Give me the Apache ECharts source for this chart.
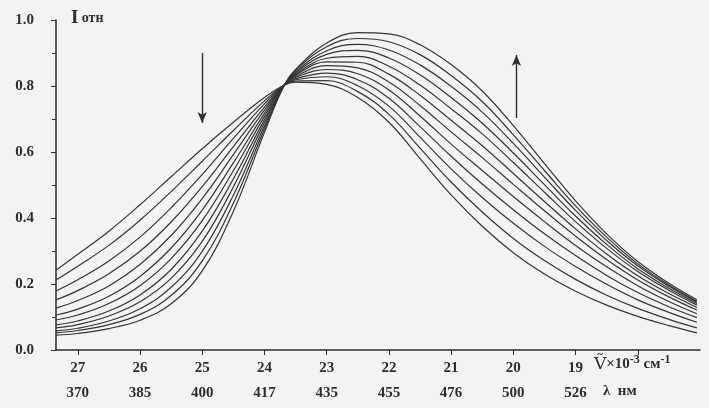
<!DOCTYPE html>
<html>
<head>
<meta charset="utf-8">
<script src="https://cdn.jsdelivr.net/npm/echarts@6/dist/echarts.min.js"></script>
<style>
  html, body { margin: 0; padding: 0; background: #f3f3f1; }
  #chart { width: 709px; height: 408px; }
</style>
</head>
<body>
<div id="chart"></div>
<script>
// wavenumber, 10^3 cm^-1
const wavenumbers = [27.35, 27, 26.5, 26, 25.5, 25, 24.5, 24, 23.68, 23.5, 23, 22.5, 22, 21.5, 21, 20.5, 20, 19.5, 19, 18.5, 18, 17.5, 17.05]

// relative intensity, one array per spectrum
const c0  = [.242, .290, .360, .440, .525, .610, .690, .765, .803, .812, .805, .765, .690, .580, .470, .375, .295, .230, .178, .136, .102, .074, .052]
const c1  = [.212, .254, .317, .393, .480, .572, .665, .755, .803, .815, .816, .783, .714, .612, .509, .418, .338, .271, .214, .166, .126, .093, .067]
const c2  = [.179, .213, .270, .342, .431, .532, .641, .746, .803, .819, .828, .801, .739, .645, .549, .462, .384, .314, .253, .199, .152, .114, .084]
const c3  = [.152, .180, .231, .299, .388, .495, .616, .736, .803, .822, .839, .819, .763, .677, .587, .503, .425, .352, .286, .226, .174, .131, .098]
const c4  = [.127, .150, .194, .259, .347, .459, .592, .727, .803, .826, .850, .837, .788, .709, .624, .544, .465, .389, .317, .252, .195, .147, .110]
const c5  = [.106, .124, .163, .223, .309, .424, .567, .717, .803, .829, .862, .855, .812, .741, .661, .583, .502, .422, .345, .274, .212, .161, .121]
const c6  = [.091, .106, .141, .195, .277, .392, .543, .708, .803, .833, .873, .872, .836, .772, .696, .619, .535, .450, .367, .291, .225, .171, .129]
const c7  = [.076, .088, .118, .167, .244, .360, .518, .698, .803, .836, .884, .890, .860, .803, .731, .655, .568, .478, .389, .308, .238, .181, .136]
const c8  = [.067, .077, .103, .146, .217, .329, .494, .689, .803, .840, .896, .908, .885, .834, .765, .687, .597, .501, .406, .320, .246, .187, .141]
const c9  = [.058, .066, .088, .125, .190, .299, .469, .679, .803, .843, .907, .926, .909, .864, .799, .721, .626, .524, .423, .332, .255, .193, .145]
const c10 = [.052, .059, .077, .108, .165, .270, .445, .670, .803, .847, .919, .944, .934, .895, .832, .753, .652, .544, .437, .342, .261, .197, .148]
const c11 = [.045, .050, .065, .090, .140, .240, .420, .660, .803, .850, .930, .962, .958, .925, .865, .785, .680, .565, .452, .352, .268, .202, .152]
const spectra = [c0, c1, c2, c3, c4, c5, c6, c7, c8, c9, c10, c11]

// tick labels
const nuTicks = [27, 26, 25, 24, 23, 22, 21, 20, 19]
const lambdaLabels = ['370', '385', '400', '417', '435', '455', '476', '500', '526']
const xTickMarks = [27, 26, 25, 24, 23, 22, 21, 20, 19, 18]

// arrows: [nu, from, to]
const arrowDown = [25.0, 0.90, 0.688]
const arrowUp = [19.95, 0.703, 0.894]

const ink = '#2e2e2e'
const serif = '"Liberation Serif", "DejaVu Serif", serif'

const chart = echarts.init(document.getElementById('chart'))

const series = spectra.map((vals, k) => ({
  name: 'c' + k,
  type: 'line',
  data: wavenumbers.map((nu, i) => [nu, vals[i]]),
  smooth: 0.4,
  symbol: 'none',
  lineStyle: { color: '#353535', width: 1.2 },
  silent: true,
}))

series[0].markLine = {
  silent: true,
  symbol: ['none', 'arrow'],
  symbolSize: [7, 11],
  label: { show: false },
  lineStyle: { color: ink, width: 1.4, type: 'solid' },
  data: [
    [{ coord: [arrowDown[0], arrowDown[1]] }, { coord: [arrowDown[0], arrowDown[2]] }],
    [{ coord: [arrowUp[0], arrowUp[1]] }, { coord: [arrowUp[0], arrowUp[2]] }],
  ],
}

chart.setOption({
  backgroundColor: '#f3f3f1',
  animation: false,
  grid: { left: 56, right: 9, top: 20, bottom: 58 },
  xAxis: {
    type: 'value',
    min: 17, max: 27.35,
    inverse: true,
    axisLine: { lineStyle: { color: ink, width: 1.5 } },
    axisTick: { customValues: xTickMarks, length: 5, lineStyle: { color: ink } },
    splitLine: { show: false },
    axisLabel: {
      customValues: nuTicks,
      margin: 6,
      formatter: v => {
        const i = nuTicks.indexOf(v)
        return i < 0 ? '' : `{a|${v}}\n{b|${lambdaLabels[i]}}`
      },
      rich: {
        a: { fontFamily: serif, fontWeight: 'bold', fontSize: 15, color: ink, lineHeight: 25 },
        b: { fontFamily: serif, fontWeight: 'bold', fontSize: 15, color: ink, lineHeight: 25 },
      },
    },
  },
  yAxis: {
    type: 'value',
    min: 0, max: 1, interval: 0.2,
    axisLine: { show: true, lineStyle: { color: ink, width: 1.5 } },
    axisTick: { show: true, length: 5, lineStyle: { color: ink } },
    minorTick: { show: true, splitNumber: 2, length: 4, lineStyle: { color: ink } },
    splitLine: { show: false },
    axisLabel: {
      margin: 22,
      fontFamily: serif, fontWeight: 'bold', fontSize: 15, color: ink,
      formatter: v => v.toFixed(1),
    },
  },
  graphic: [
    {
      type: 'text', left: 71, top: 9,
      style: {
        text: '{i|I} {o|отн}',
        rich: {
          i: { fontFamily: serif, fontWeight: 'bold', fontSize: 19, fill: ink },
          o: { fontFamily: serif, fontWeight: 'bold', fontSize: 14, fill: ink },
        },
      },
    },
    {
      type: 'text', left: 594, top: 354,
      style: {
        text: '{v|Ṽ}{t|×10}{s|-3}{t| см}{s|-1}',
        rich: {
          v: { fontFamily: '"DejaVu Serif", serif', fontSize: 17, fill: ink },
          t: { fontFamily: serif, fontWeight: 'bold', fontSize: 15, fill: ink },
          s: { fontFamily: serif, fontWeight: 'bold', fontSize: 12, fill: ink, padding: [0, 0, 9, 0] },
        },
      },
    },
    {
      type: 'text', left: 603, top: 384,
      style: {
        text: 'λ  нм',
        fontFamily: serif, fontWeight: 'bold', fontSize: 15, fill: ink,
      },
    },
  ],
  series,
})
</script>
</body>
</html>
